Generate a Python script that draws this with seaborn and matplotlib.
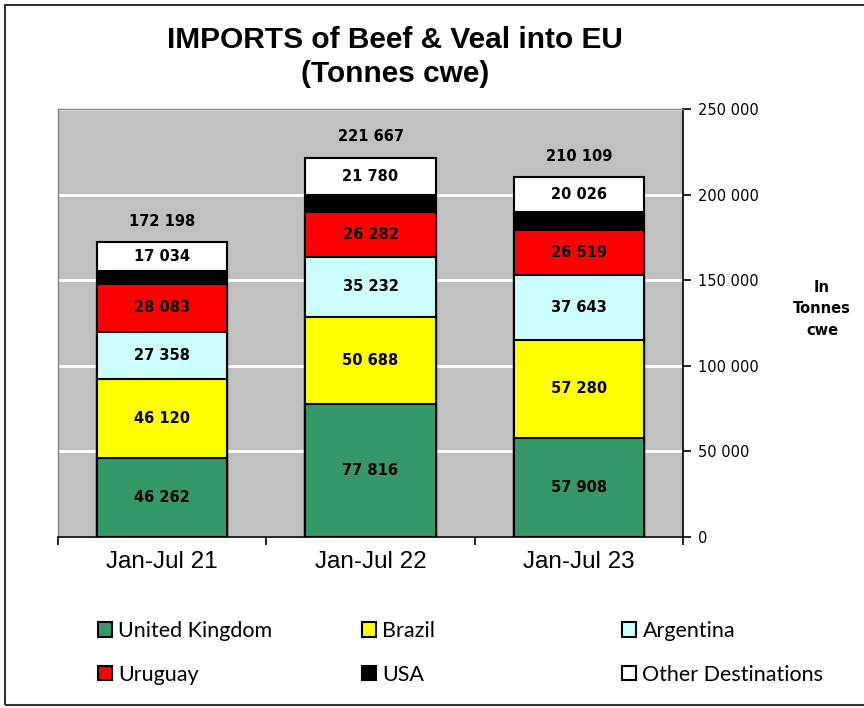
import numpy as np
import pandas as pd
import matplotlib
matplotlib.use("Agg")
import matplotlib.pyplot as plt
from matplotlib.patches import Patch, Rectangle
from matplotlib.ticker import FuncFormatter, MultipleLocator, FixedLocator
import seaborn as sns

# Data (tonnes cwe)
periods = ["Jan-Jul 21", "Jan-Jul 22", "Jan-Jul 23"]
uk = [46262, 77816, 57908]
brazil = [46120, 50688, 57280]
argentina = [27358, 35232, 37643]
uruguay = [28083, 26282, 26519]
usa = [7341, 9869, 10733]
other = [17034, 21780, 20026]

series_names = ["United Kingdom", "Brazil", "Argentina", "Uruguay", "USA", "Other Destinations"]
series_colors = ["#339966", "#FFFF00", "#CCFFFF", "#FF0000", "#000000", "#FFFFFF"]


def fmt(v):
    return f"{int(v):,}".replace(",", " ")


sns.set_theme(style="white")
plt.rcParams["font.family"] = ["Liberation Sans", "DejaVu Sans"]
plt.rcParams["text.color"] = "black"
plt.rcParams["xtick.color"] = "black"
plt.rcParams["ytick.color"] = "black"

fig = plt.figure(figsize=(8.64, 7.08), dpi=100)
ax = fig.add_axes([58 / 864, 1 - 537 / 708, 625 / 864, 428 / 708])
ax.set_facecolor("#C0C0C0")

values = np.array([uk, brazil, argentina, uruguay, usa, other])
cum = np.cumsum(values, axis=0)

# stacked bars: draw cumulative totals from the top layer down
for k in reversed(range(len(series_names))):
    d = pd.DataFrame({"period": periods, "value": cum[k]})
    sns.barplot(data=d, x="period", y="value", color=series_colors[k],
                edgecolor="black", linewidth=1.5, width=0.625, errorbar=None,
                saturation=1, ax=ax, zorder=3)

# segment labels
for k, name in enumerate(series_names):
    if name == "USA":
        continue
    for i in range(len(periods)):
        ax.text(i, cum[k][i] - values[k][i] / 2, fmt(values[k][i]),
                ha="center", va="center", fontsize=10.5, fontweight="bold",
                family="DejaVu Sans", color="black", zorder=5)

# totals above bars
for i in range(len(periods)):
    ax.annotate(fmt(cum[-1][i]), (i, cum[-1][i]), xytext=(0, 15),
                textcoords="offset points", ha="center", va="center",
                fontsize=10.5, fontweight="bold", family="DejaVu Sans", color="black")

ax.set_xlabel("")
ax.set_ylabel("")
ax.set_ylim(0, 250000)
ax.set_xlim(-0.5, 2.5)
ax.yaxis.set_major_locator(MultipleLocator(50000))
ax.yaxis.set_major_formatter(FuncFormatter(lambda v, p: fmt(v)))
ax.yaxis.tick_right()
ax.tick_params(axis="y", which="major", direction="out", length=6, width=1.2,
               color="black", labelcolor="black", labelsize=10.5, pad=5,
               right=True, left=False)
for lab in ax.get_yticklabels():
    lab.set_family("DejaVu Sans")
ax.yaxis.grid(True, color="white", linewidth=2)
ax.set_axisbelow(True)

ax.tick_params(axis="x", which="major", length=0, labelsize=17.5, pad=10,
               labelcolor="black")
ax.xaxis.set_minor_locator(FixedLocator([-0.5, 0.5, 1.5, 2.5]))
ax.tick_params(axis="x", which="minor", length=6, width=1.2, direction="out",
               color="black", bottom=True)

for side in ["right", "bottom"]:
    ax.spines[side].set_color("black")
    ax.spines[side].set_linewidth(1.2)
for side in ["top", "left"]:
    ax.spines[side].set_color("#808080")
    ax.spines[side].set_linewidth(1)

# title
fig.text(395 / 864, 1 - 40 / 708, "IMPORTS of Beef & Veal into EU",
         ha="center", va="center", fontsize=21.5, fontweight="bold", color="black")
fig.text(395 / 864, 1 - 74 / 708, "(Tonnes cwe)",
         ha="center", va="center", fontsize=21.5, fontweight="bold", color="black")

# unit label on the right
fig.text(822 / 864, 1 - 309 / 708, "In\nTonnes\ncwe", ha="center", va="center",
         fontsize=10.5, fontweight="bold", family="DejaVu Sans", linespacing=1.55,
         color="black")

# legend, three columns placed by hand
cols = [(0, 3), (1, 4), (2, 5)]
col_x = [98 / 864, 362 / 864, 622 / 864]
for (a, b), x in zip(cols, col_x):
    handles = [Patch(facecolor=series_colors[j], edgecolor="black", linewidth=1.5,
                     label=series_names[j]) for j in (a, b)]
    fig.legend(handles=handles, loc="center left", bbox_to_anchor=(x, 1 - 653 / 708),
               frameon=False, borderpad=0, borderaxespad=0, handlelength=0.65,
               handleheight=0.65, handletextpad=0.3, labelspacing=1.1,
               labelcolor="black", prop={"family": "Lato", "size": 15.5})

# outer frame
fig.add_artist(Rectangle((5 / 864, 3 / 708), 1.0, 700 / 708, transform=fig.transFigure,
                         fill=False, edgecolor="#333333", linewidth=1.5))

fig.savefig("out.png", dpi=100)
